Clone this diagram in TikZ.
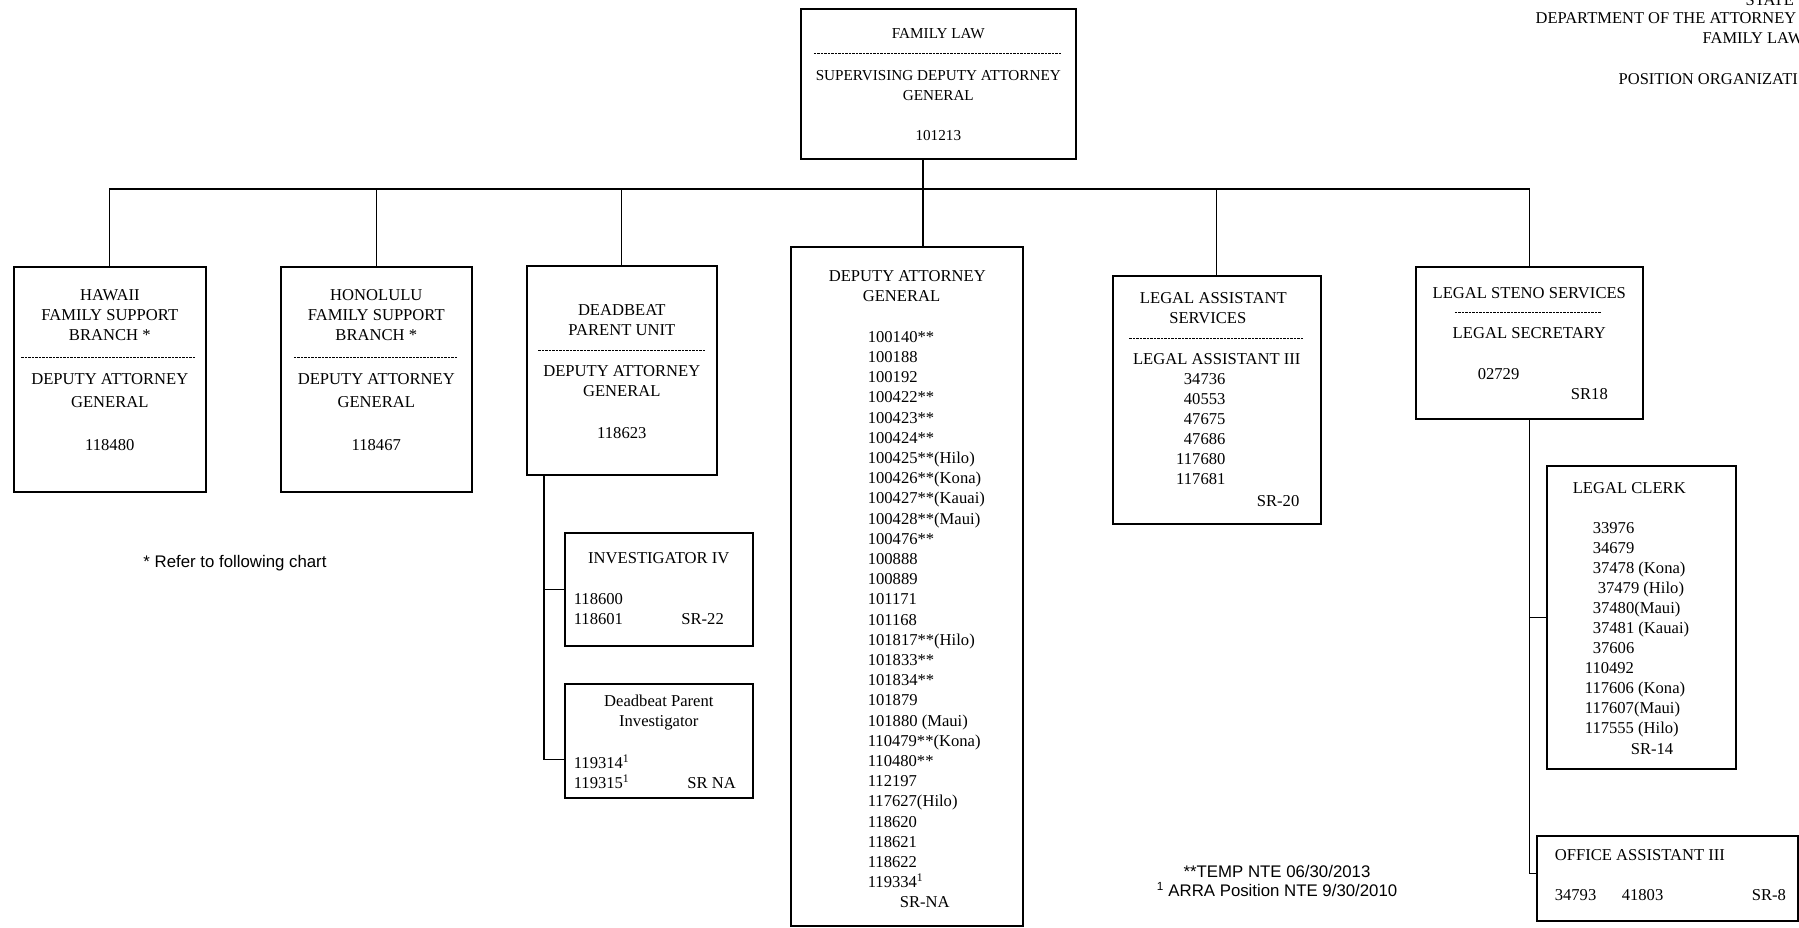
\documentclass[tikz,border=0pt]{standalone}
\usepackage{fontspec}
\setmainfont{Liberation Serif}
\newfontfamily\notefont{Liberation Sans}
\newcommand{\boxbody}[4]{\begin{minipage}[c][#2pt][t]{#1pt}\vspace*{#3pt}\centering #4\end{minipage}}
\newcommand{\sepline}[1]{\leavevmode\hbox to #1pt{\leaders\hbox to 3.5pt{\hss\rule[5pt]{2.4pt}{0.8pt}\hss}\hfill}}

\begin{document}
\begin{tikzpicture}[x=1pt,y=-1pt,line width=1.3pt,
    posbox/.style={draw,line width=1.6pt,inner sep=0pt,anchor=north west,
      font=\fontsize{16.6}{20}\selectfont},
    note/.style={font=\notefont\fontsize{16.8}{19}\selectfont,inner sep=0pt},
    heading/.style={font=\fontsize{16.5}{20}\selectfont,anchor=west,inner sep=0pt}]
  \useasboundingbox (0,0) rectangle (1799,927);
  \begin{scope}
    \clip (0,0) rectangle (1799,927);
    \node[heading] (state) at (1745,0) {STATE};
    \node[heading] (dept) at (1535,18) {DEPARTMENT OF THE ATTORNEY};
    \node[heading] (famhead) at (1702,38) {FAMILY LAW};
    \node[heading] (chart) at (1618,79) {POSITION ORGANIZATI};
  \end{scope}
  % boxes
  \node[posbox] (famlaw) at (800,8) {\boxbody{275}{150}{20}{\fontsize{15.2}{20}\selectfont
    FAMILY LAW\\ \sepline{250}\\[2pt]
    SUPERVISING DEPUTY ATTORNEY\\ GENERAL\\[20pt] 101213}};
  \node[posbox] (hawaii) at (13,266) {\boxbody{192}{225}{22.5}{HAWAII\\ FAMILY SUPPORT\\ BRANCH *\\[2.3pt]
    \sepline{178}\\[2.3pt] DEPUTY ATTORNEY\\[2.3pt] GENERAL\\[23.5pt] 118480}};
  \node[posbox] (honolulu) at (280,266) {\boxbody{191}{225}{22.5}{HONOLULU\\ FAMILY SUPPORT\\ BRANCH *\\[2.3pt]
    \sepline{166}\\[2.3pt] DEPUTY ATTORNEY\\[2.3pt] GENERAL\\[23.5pt] 118467}};
  \node[posbox] (deadbeat) at (526,265) {\boxbody{190}{209}{38.5}{DEADBEAT\\ PARENT UNIT\\[1pt]
    \sepline{168}\\ DEPUTY ATTORNEY\\ GENERAL\\[22pt] 118623}};
  \node[posbox] (deputy) at (790,246) {\boxbody{232}{679}{23.5}{\raggedright\fontsize{16.6}{20.2}\selectfont
    \hspace*{38pt}DEPUTY ATTORNEY\\
    \hspace*{72pt}GENERAL\\[20.6pt]
    \hspace*{77pt}\begin{tabular}[t]{@{}l@{}}
      100140**\\ 100188\\ 100192\\ 100422**\\ 100423**\\ 100424**\\
      100425**(Hilo)\\ 100426**(Kona)\\ 100427**(Kauai)\\ 100428**(Maui)\\
      100476**\\ 100888\\ 100889\\ 101171\\ 101168\\ 101817**(Hilo)\\
      101833**\\ 101834**\\ 101879\\ 101880 (Maui)\\ 110479**(Kona)\\
      110480**\\ 112197\\ 117627(Hilo)\\ 118620\\ 118621\\ 118622\\
      119334\textsuperscript{1}\\ \hspace*{32pt}SR-NA
    \end{tabular}}};
  \node[posbox] (legal) at (1112,275) {\boxbody{208}{248}{16.5}{%
    \hspace*{-7pt}LEGAL ASSISTANT\\ \hspace*{-18pt}SERVICES\\[1pt] \sepline{176}\\
    LEGAL ASSISTANT III\\
    \hspace*{-32pt}\begin{tabular}[t]{@{}r@{}}34736\\ 40553\\ 47675\\ 47686\\ 117680\\ 117681\end{tabular}\\[4pt]
    \hfill SR-20\hspace*{21.5pt}}};
  \node[posbox] (steno) at (1415,266) {\boxbody{227}{152}{20.5}{LEGAL STENO SERVICES\\ \sepline{150}\\
    LEGAL SECRETARY\\[21pt]
    \hspace*{62pt}02729\hfill\hbox{}\\ \hfill SR18\hspace*{35pt}}};
  \node[posbox] (clerk) at (1546,465) {\boxbody{189}{303}{16.5}{\raggedright
    \hspace*{26pt}LEGAL CLERK\\[20pt]
    \hspace*{46pt}33976\\ \hspace*{46pt}34679\\ \hspace*{46pt}37478 (Kona)\\
    \hspace*{51pt}37479 (Hilo)\\ \hspace*{46pt}37480(Maui)\\ \hspace*{46pt}37481 (Kauai)\\
    \hspace*{46pt}37606\\ \hspace*{38pt}110492\\ \hspace*{38pt}117606 (Kona)\\
    \hspace*{38pt}117607(Maui)\\ \hspace*{38pt}117555 (Hilo)\\[1pt] \hspace*{84pt}SR-14}};
  \node[posbox] (office) at (1536,835) {\boxbody{261}{85}{13.5}{\raggedright
    \hspace*{18pt}OFFICE ASSISTANT III\\[20pt]
    \hspace*{18pt}34793\hspace*{25.5pt}41803\hspace*{88.5pt}SR-8}};
  \node[posbox] (inv4) at (564,532) {\boxbody{188}{113}{19.5}{INVESTIGATOR IV\\[21pt]
    \hspace*{9pt}118600\hfill\hbox{}\\ \hspace*{9pt}118601\hfill SR-22\hspace*{29pt}}};
  \node[posbox] (dpinv) at (564,683) {\boxbody{188}{114}{11.5}{Deadbeat Parent\\ Investigator\\[22pt]
    \hspace*{9pt}119314\textsuperscript{1}\hfill\hbox{}\\
    \hspace*{9pt}119315\textsuperscript{1}\hfill SR NA\hspace*{17pt}}};
  % notes
  \node[note] (refer) at (235,563) {* Refer to following chart};
  \node[note,align=center] (temp) at (1277,881) {**TEMP NTE 06/30/2013\\ \textsuperscript{1} ARRA Position NTE 9/30/2010};
  % lines
  \coordinate (bus) at (923,189);
  \draw (famlaw.south -| bus) -- (deputy.north -| bus);
  \draw (hawaii.north) |- (steno.north |- bus) -- (steno.north);
  \foreach \n in {honolulu,deadbeat,legal}
    \draw (\n.north) -- (\n.north |- bus);
  \coordinate (dpspine) at ([xshift=18pt]deadbeat.south west);
  \draw (dpspine) |- ([yshift=39pt]dpinv.south west);
  \draw (inv4.west) -- (inv4.west -| dpspine);
  \draw (steno.south) |- ([yshift=4.5pt]office.west);
  \draw (clerk.west) -- (clerk.west -| steno.south);
\end{tikzpicture}
\end{document}
